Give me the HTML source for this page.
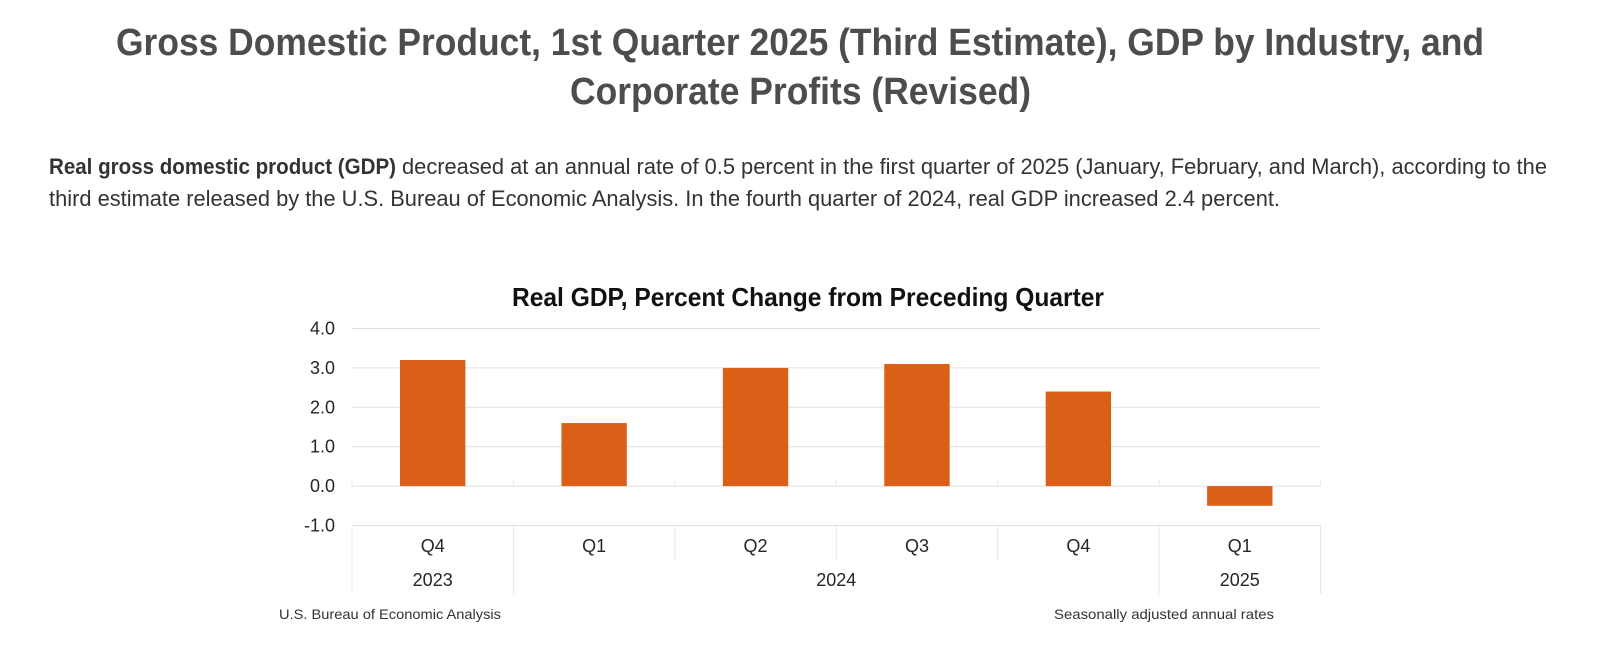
<!DOCTYPE html>
<html lang="en">
<head>
<meta charset="utf-8">
<title>Gross Domestic Product, 1st Quarter 2025</title>
<style>
html,body{margin:0;padding:0;background:#fff;width:1600px;height:671px;overflow:hidden}
svg{display:block;font-family:"Liberation Sans",sans-serif}
.h{font-weight:700;font-size:38px;fill:#4d4d4d}
.b{font-size:22px;fill:#333}
.c{font-size:18px;fill:#262626}
.f{font-size:14px;fill:#333}
</style>
</head>
<body>
<svg id="page" width="1600" height="671" viewBox="0 0 1600 671" xmlns="http://www.w3.org/2000/svg">
  <text class="h" x="116" y="55" textLength="1368" lengthAdjust="spacingAndGlyphs">Gross Domestic Product, 1st Quarter 2025 (Third Estimate), GDP by Industry, and</text>
  <text class="h" x="570" y="104" textLength="461" lengthAdjust="spacingAndGlyphs">Corporate Profits (Revised)</text>
  <text class="b" x="49" y="174" font-weight="700" textLength="347" lengthAdjust="spacingAndGlyphs">Real gross domestic product (GDP)</text>
  <text class="b" x="402" y="174" textLength="1145" lengthAdjust="spacingAndGlyphs">decreased at an annual rate of 0.5 percent in the first quarter of 2025 (January, February, and March), according to the</text>
  <text class="b" x="49" y="206" textLength="1231" lengthAdjust="spacingAndGlyphs">third estimate released by the U.S. Bureau of Economic Analysis. In the fourth quarter of 2024, real GDP increased 2.4 percent.</text>
  <g id="chart">
    <text x="512" y="306" font-size="26" font-weight="700" fill="#111" textLength="592" lengthAdjust="spacingAndGlyphs">Real GDP, Percent Change from Preceding Quarter</text>
  </g>
  <text class="f" x="279" y="619" textLength="222" lengthAdjust="spacingAndGlyphs">U.S. Bureau of Economic Analysis</text>
  <text class="f" x="1054" y="619" textLength="220" lengthAdjust="spacingAndGlyphs">Seasonally adjusted annual rates</text>
</svg>
<script>
const quarters = ['Q4', 'Q1', 'Q2', 'Q3', 'Q4', 'Q1'];
const gdpChange = [3.2, 1.6, 3.0, 3.1, 2.4, -0.5];
const yTicks = [4, 3, 2, 1, 0, -1];
const yearLabels = ['2023', '2024', '2025'];
const yearQuarterCounts = [1, 4, 1];

const NS = 'http://www.w3.org/2000/svg';
const chart = document.getElementById('chart');
const plotLeft = 352, plotRight = 1320.5, plotTop = 328.5, plotBottom = 525.5;
const yMax = 4, yMin = -1;
const gridColor = '#e0e0e0', sepColor = '#e8e8e8', barColor = '#d96016';
const bandWidth = (plotRight - plotLeft) / quarters.length;
const xAt = function (i) { return plotLeft + i * bandWidth; };
const yAt = function (v) { return plotTop + (yMax - v) / (yMax - yMin) * (plotBottom - plotTop); };

function make(tag, props) {
  const el = document.createElementNS(NS, tag);
  Object.keys(props).forEach(function (k) { el.setAttribute(k, props[k]); });
  chart.appendChild(el);
  return el;
}
function vline(x, y1, y2) {
  return make('line', { x1: x, x2: x, y1: y1, y2: y2, stroke: sepColor, 'stroke-width': 1 });
}

yTicks.forEach(function (t) {
  const line = make('line', { x1: plotLeft, x2: plotRight, y1: yAt(t), y2: yAt(t), stroke: gridColor, 'stroke-width': 1 });
  
  
  const label = make('text', { x: 335, y: yAt(t) + 6, 'text-anchor': 'end', class: 'c' });
  label.textContent = t.toFixed(1);
  
  
});

quarters.forEach(function (q, i) {
  const zeroTick = vline(xAt(i), yAt(0) - 6, yAt(0));
  
  
  const sep = vline(xAt(i), plotBottom, 560);
  
  
  const label = make('text', { x: xAt(i) + bandWidth / 2, y: 552, 'text-anchor': 'middle', class: 'c' });
  label.textContent = q;
  
  
});
const endZeroTick = vline(plotRight, yAt(0) - 6, yAt(0));


const endSep = vline(plotRight, plotBottom, 594);



let startIndex = 0;
yearLabels.forEach(function (y, i) {
  const count = yearQuarterCounts[i];
  const sep = vline(xAt(startIndex), 560, 594);
  
  
  const label = make('text', { x: xAt(startIndex + count / 2), y: 586, 'text-anchor': 'middle', class: 'c' });
  label.textContent = y;
  
  
  startIndex += count;
});

gdpChange.forEach(function (v, i) {
  const w = bandWidth * 0.405;
  const top = yAt(Math.max(v, 0));
  const bottom = yAt(Math.min(v, 0));
  const bar = make('rect', { x: xAt(i) + (bandWidth - w) / 2, y: top, width: w, height: bottom - top, fill: barColor });
  
  
});
</script>
</body>
</html>
